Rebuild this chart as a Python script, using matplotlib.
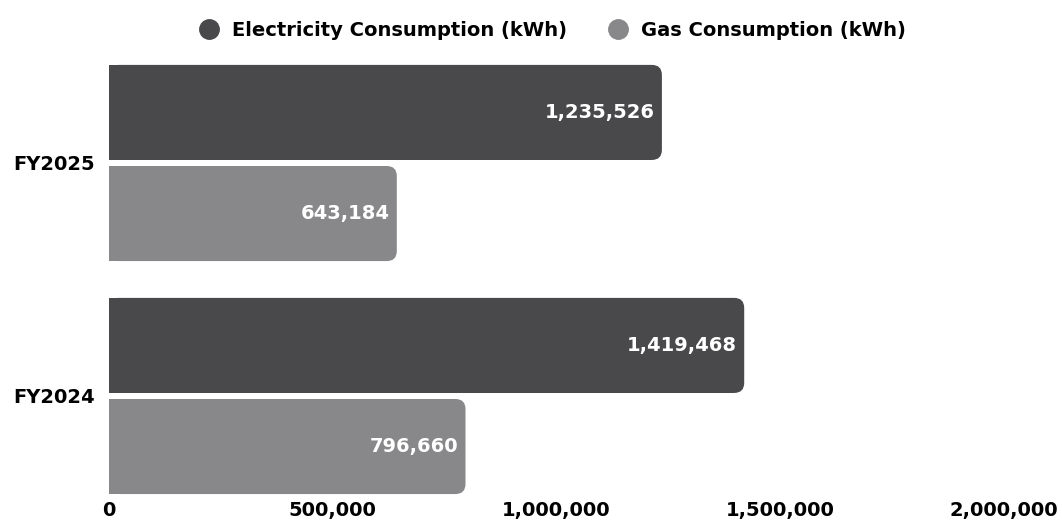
import matplotlib.pyplot as plt
from matplotlib.patches import FancyBboxPatch, Rectangle
from matplotlib.lines import Line2D
from matplotlib.ticker import FuncFormatter

years = ['FY2024', 'FY2025']
electricity = [1419468, 1235526]
gas = [796660, 643184]
series_names = ['Electricity Consumption (kWh)', 'Gas Consumption (kWh)']
colors = ['#49494b', '#88888a']

fig = plt.figure(figsize=(10.62, 5.25), dpi=100)
ax = fig.add_axes([0.1026, 0.0514, 0.8428, 0.8343])

xmax = 2000000
ax.set_xlim(0, xmax)
ax.set_ylim(-0.438, 1.442)

h = 0.408
off = 0.217
r_px = 10
# data units per pixel in each direction
xpp = xmax / (0.8428 * 1062)
ypp = (1.442 + 0.438) / (0.8343 * 525)
r = r_px * xpp


def rounded_bar(y, w, c):
    # square left part + rounded full bar for round right corners
    ax.add_patch(Rectangle((0, y - h / 2), w - r, h, fc=c, ec='none', zorder=2))
    ax.add_patch(FancyBboxPatch((0, y - h / 2), w, h,
                                boxstyle=f'round,pad=0,rounding_size={r}',
                                mutation_aspect=ypp / xpp,
                                fc=c, ec='none', zorder=2))


for i, yr in enumerate(years):
    for val, c, dy in [(electricity[i], colors[0], off), (gas[i], colors[1], -off)]:
        rounded_bar(i + dy, val, c)
        ax.text(val - 7 * xpp, i + dy, f'{val:,}', ha='right', va='center',
                color='white', fontsize=14, fontweight='bold', zorder=3)

ax.set_yticks(range(len(years)))
ax.set_yticklabels(years, fontsize=14, fontweight='bold')
ax.set_xticks([0, 500000, 1000000, 1500000, 2000000])
ax.xaxis.set_major_formatter(FuncFormatter(lambda v, p: f'{int(v):,}'))
for lbl in ax.get_xticklabels():
    lbl.set_fontweight('bold')
    lbl.set_fontsize(14)

ax.tick_params(axis='both', length=0)
ax.tick_params(axis='x', pad=2)
ax.tick_params(axis='y', pad=10)
for s in ax.spines.values():
    s.set_visible(False)

handles = [Line2D([], [], marker='o', ls='none', markersize=14, color=c) for c in colors]
fig.legend(handles, series_names, loc='upper center', bbox_to_anchor=(0.516, 0.993),
           ncol=2, frameon=False, prop={'weight': 'bold', 'size': 14},
           handletextpad=0.2, columnspacing=1.6)

fig.savefig('out.png', dpi=100)
